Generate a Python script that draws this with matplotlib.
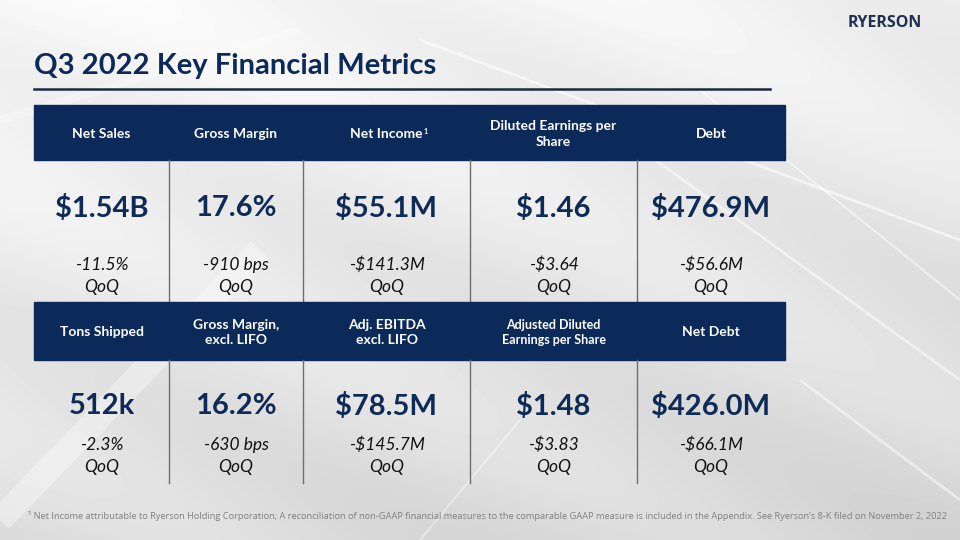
import numpy as np
import matplotlib
matplotlib.use("Agg")
import matplotlib.pyplot as plt
from matplotlib.patches import Rectangle

# ---- data ----
title = "Q3 2022 Key Financial Metrics"
headers_top = ["Net Sales", "Gross Margin", "Net Income", "Diluted Earnings per\nShare", "Debt"]
values_top = ["$1.54B", "17.6%", "$55.1M", "$1.46", "$476.9M"]
changes_top = ["-11.5%", "-910 bps", "-$141.3M", "-$3.64", "-$56.6M"]
headers_bot = ["Tons Shipped", "Gross Margin,\nexcl. LIFO", "Adj. EBITDA\nexcl. LIFO", "Adjusted Diluted\nEarnings per Share", "Net Debt"]
values_bot = ["512k", "16.2%", "$78.5M", "$1.48", "$426.0M"]
changes_bot = ["-2.3%", "-630 bps", "-$145.7M", "-$3.83", "-$66.1M"]
period = "QoQ"
footnote = ("\u00b9 Net Income attributable to Ryerson Holding Corporation; A reconciliation of non-GAAP financial measures "
            "to the comparable GAAP measure is included in the Appendix. See Ryerson\u2019s 8-K filed on November 2, 2022")
logo = "RYERSON"

# ---- layout ----
col_edges = [34, 169, 303, 470, 637, 785]
NAVY = "#0b2a5a"
VAL = "#0d2b56"
FONT = "Lato"

fig = plt.figure(figsize=(9.6, 5.4), dpi=100)
ax = fig.add_axes([0, 0, 1, 1])
ax.set_xlim(0, 960)
ax.set_ylim(540, 0)
ax.axis("off")

# background gradient
yy, xx = np.mgrid[0:540, 0:960]
bg = 0.97 - 0.10 * (yy / 540) - 0.03 * (xx / 960)
bg += 0.02 * np.sin((xx * 0.5 - yy) / 40.0)
bg = np.clip(bg, 0, 1)
ax.imshow(bg, cmap="gray", vmin=0, vmax=1, extent=[0, 960, 540, 0], aspect="auto", zorder=0)
# light streaks
for (x0, y0, x1, y1, w, a) in [(0, 520, 260, 250, 18, 0.35), (420, 40, 960, 240, 2, 0.6),
                               (600, 120, 960, 380, 2, 0.5), (700, 90, 960, 300, 1.5, 0.5),
                               (520, 420, 420, 540, 1.5, 0.4), (800, 380, 960, 500, 2, 0.5),
                               (0, 120, 300, 30, 6, 0.3)]:
    ax.plot([x0, x1], [y0, y1], color="white", lw=w, alpha=a, zorder=1, solid_capstyle="butt")

# title & rule
ax.text(34, 66, title, fontsize=21, fontweight="bold", color=NAVY, family=FONT, va="center", ha="left", zorder=5)
ax.plot([34, 770], [89, 89], color="#1c2a40", lw=1.8, zorder=5)
ax.text(885, 23, logo, fontsize=11.5, fontweight="bold", color="#1f3050", family="Open Sans",
        va="center", ha="center", zorder=5)

def draw_block(y_head0, y_head1, y_val_bottom, headers, values, changes, y_val, y_ch, sup_idx=None):
    ax.add_patch(Rectangle((col_edges[0], y_head0), col_edges[-1] - col_edges[0], y_head1 - y_head0,
                           color=NAVY, zorder=3))
    for i, h in enumerate(headers):
        cx = (col_edges[i] + col_edges[i + 1]) / 2
        cy = (y_head0 + y_head1) / 2 + 1.5
        fs = 10 if "Adjusted" not in h else 9
        t = ax.text(cx, cy, h, fontsize=fs, fontweight="bold", color="white", family=FONT,
                    ha="center", va="center", linespacing=1.3, zorder=4)
        if sup_idx == i:
            fig.canvas.draw()
            bb = t.get_window_extent().transformed(ax.transData.inverted())
            ax.text(max(bb.x0, bb.x1) + 0.5, cy - 2, "1", fontsize=5, fontweight="bold", color="white",
                    family=FONT, ha="left", va="center", zorder=4)
        ax.text(cx, y_val, values[i], fontsize=21, fontweight="bold", color=VAL, family=FONT,
                ha="center", va="center", zorder=4)
        ax.text(cx, y_ch, changes[i], fontsize=12.5, style="italic", color="#111111", family=FONT,
                ha="center", va="center", zorder=4)
        ax.text(cx, y_ch + 22, period, fontsize=12.5, style="italic", color="#111111", family=FONT,
                ha="center", va="center", zorder=4)
    for x in col_edges[1:-1]:
        ax.plot([x, x], [y_head1, y_val_bottom], color="#6e6e6e", lw=1.0, zorder=3)

draw_block(105, 160, 302, headers_top, values_top, changes_top, 208, 265, sup_idx=2)
draw_block(302, 360, 483, headers_bot, values_bot, changes_bot, 406, 445)

ax.text(488, 516, footnote, fontsize=6.7, color="#808080", family="Open Sans", ha="center", va="center", zorder=5)

fig.savefig("out.png", dpi=100)
